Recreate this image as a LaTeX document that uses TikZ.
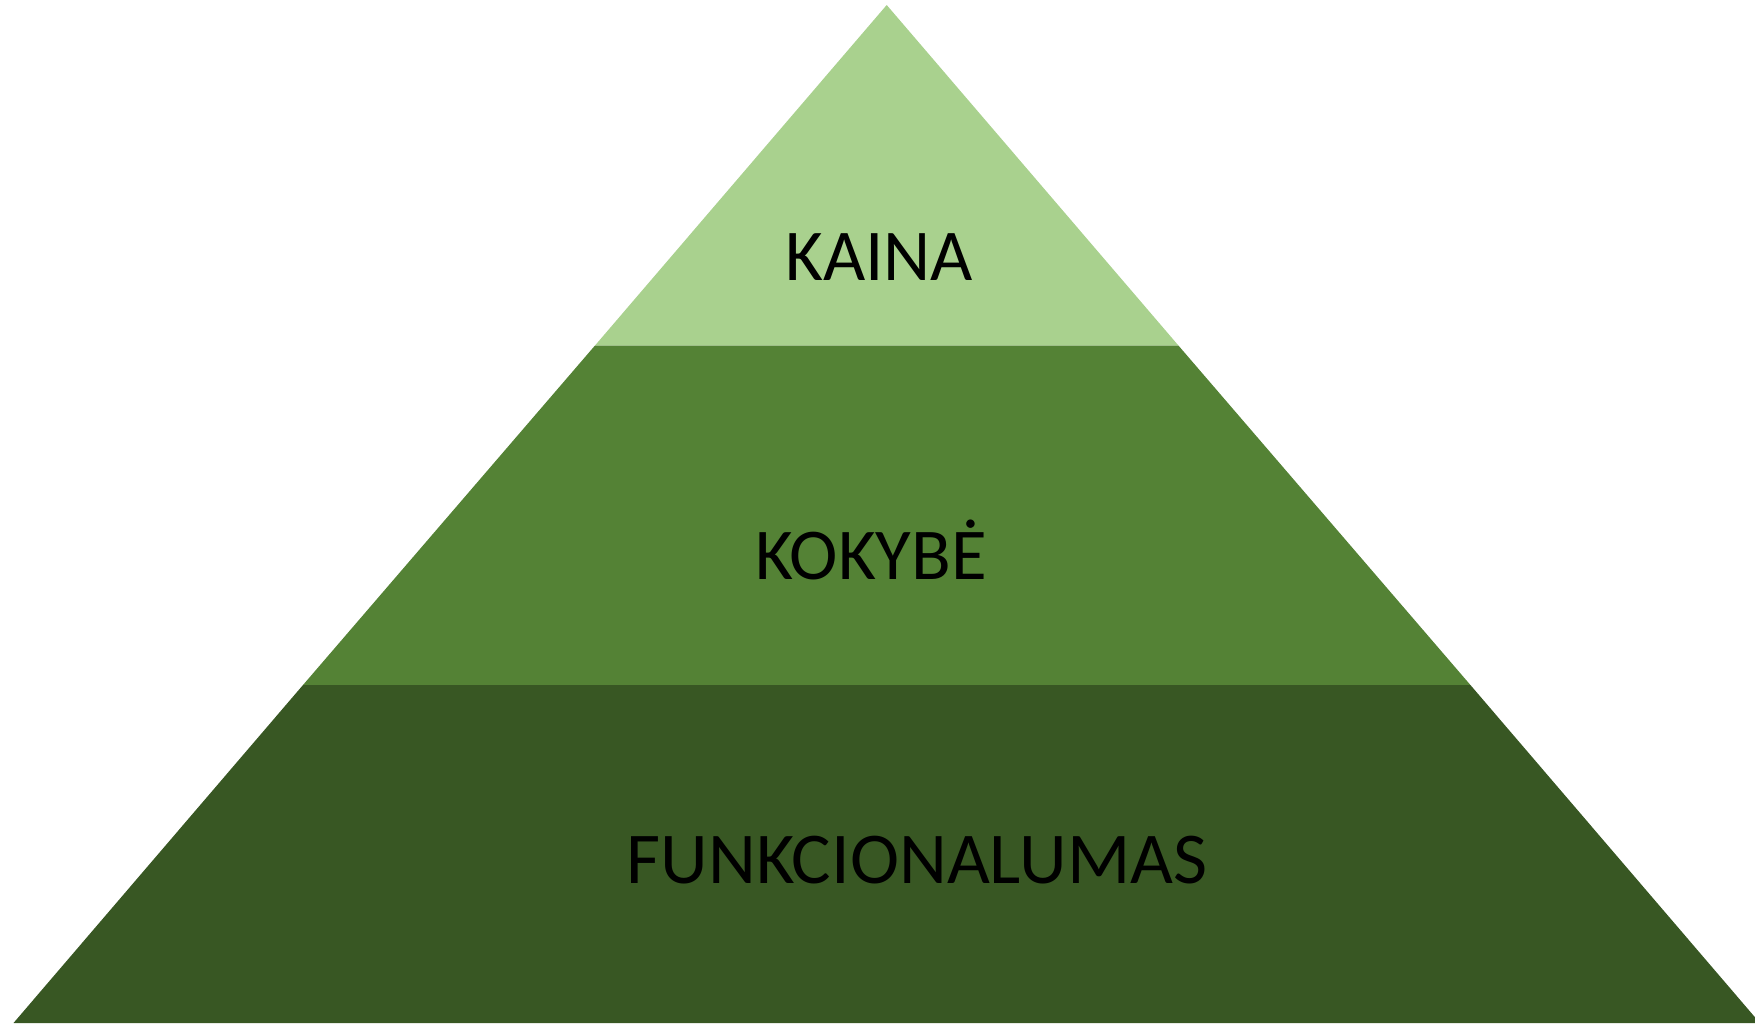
\documentclass[tikz,border=0pt]{standalone}
\usepackage{fontspec}
\setmainfont{Carlito}
\definecolor{topc}{HTML}{A9D18E}
\definecolor{midc}{HTML}{548235}
\definecolor{botc}{HTML}{385723}
\begin{document}
\begin{tikzpicture}[x=1pt,y=-1pt,
  lbl/.style={anchor=base,inner sep=0pt,font=\fontsize{73}{80}\selectfont,text=black}]
\useasboundingbox (0,0) rectangle (1755,1023);
\clip (0,0) rectangle (1755,1023);
\coordinate (apex) at (886.7,5);
\coordinate (l1) at (595,345.5);
\coordinate (r1) at (1178.4,345.5);
\coordinate (l2) at (303,685);
\coordinate (r2) at (1470.4,685);
\coordinate (l3) at (13.5,1023);
\coordinate (r3) at (1759.9,1023);
\fill[topc] (apex) -- (r1) -- (l1) -- cycle;
\fill[midc] (l1) -- (r1) -- (r2) -- (l2) -- cycle;
\fill[botc] (l2) -- (r2) -- (r3) -- (l3) -- cycle;
\node[lbl] (kaina) at (879,280) {KAINA};
\node[lbl] (kokybe) at (871,579) {KOKYBĖ};
\node[lbl] (funk) at (917,883) {\scalebox{1.015}[1]{FUNKCIONALUMAS}};
\end{tikzpicture}
\end{document}
